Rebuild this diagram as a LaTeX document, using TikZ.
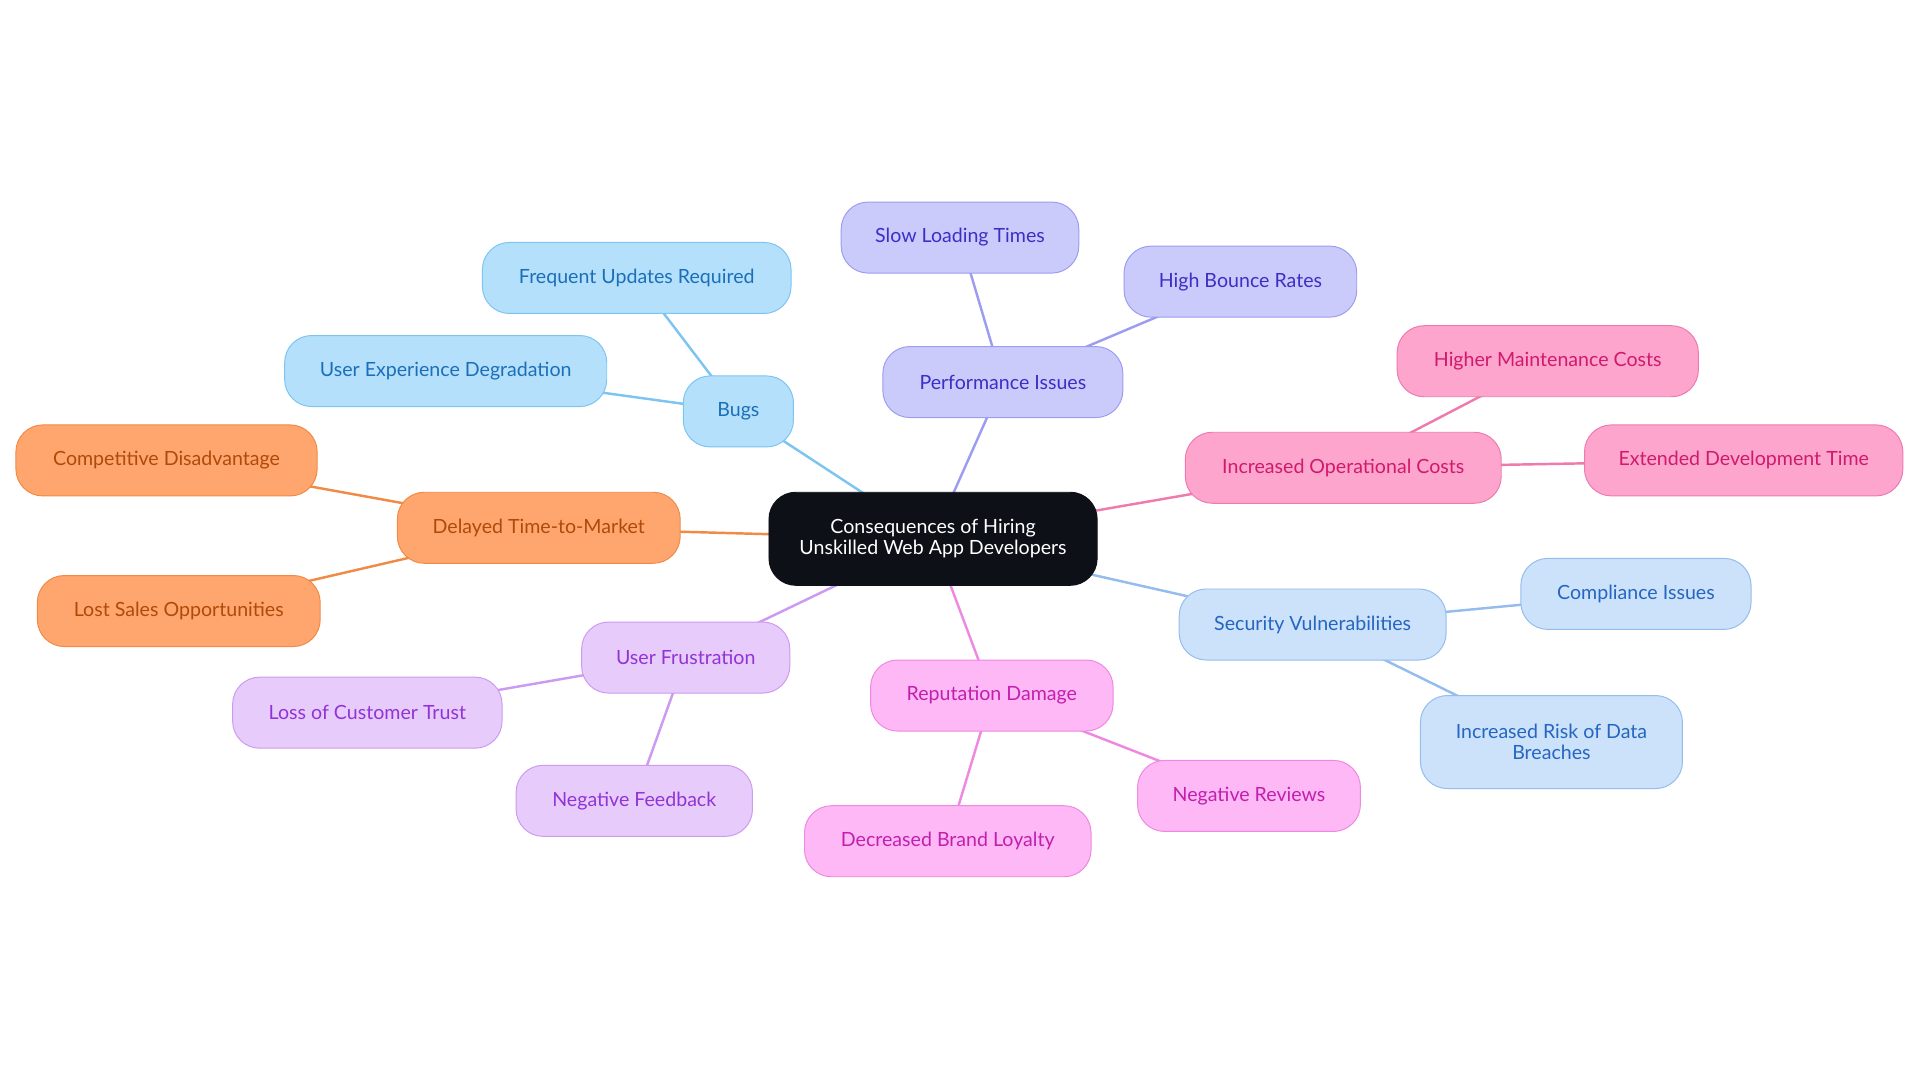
\documentclass[tikz,border=0pt]{standalone}
\usepackage{fontspec}
\setmainfont{Lato}
\usetikzlibrary{backgrounds}
\definecolor{cbF}{HTML}{B5E0FC}\definecolor{cbD}{HTML}{7CC4F2}\definecolor{cbT}{HTML}{1B6FB8}
\definecolor{cpF}{HTML}{CBCBFB}\definecolor{cpD}{HTML}{9C9CF0}\definecolor{cpT}{HTML}{3B30C4}
\definecolor{crF}{HTML}{FDA5CC}\definecolor{crD}{HTML}{EE7AAE}\definecolor{crT}{HTML}{CF1A6E}
\definecolor{csF}{HTML}{CCE1FA}\definecolor{csD}{HTML}{94BDEE}\definecolor{csT}{HTML}{2466C0}
\definecolor{cmF}{HTML}{FDB8F5}\definecolor{cmD}{HTML}{EE88E0}\definecolor{cmT}{HTML}{C21FAE}
\definecolor{cuF}{HTML}{E7CCFB}\definecolor{cuD}{HTML}{CC9AF0}\definecolor{cuT}{HTML}{9133D6}
\definecolor{coF}{HTML}{FEA66E}\definecolor{coD}{HTML}{F08A45}\definecolor{coT}{HTML}{B04A0A}
\definecolor{ccF}{HTML}{0D1117}
\tikzset{
 box/.style={rounded corners=22pt,minimum height=58pt,font=\fontsize{16}{17}\selectfont,align=center,line width=0.8pt,inner sep=0pt},
 gb/.style={box,fill=cbF,draw=cbD,text=cbT},
 gp/.style={box,fill=cpF,draw=cpD,text=cpT},
 gr/.style={box,fill=crF,draw=crD,text=crT},
 gs/.style={box,fill=csF,draw=csD,text=csT},
 gm/.style={box,fill=cmF,draw=cmD,text=cmT},
 gu/.style={box,fill=cuF,draw=cuD,text=cuT},
 go/.style={box,fill=coF,draw=coD,text=coT},
 ln/.style={line width=2pt}
}
\begin{document}
\begin{tikzpicture}[x=1pt,y=-1pt]
\useasboundingbox (0,0) rectangle (1568,884);
\node[box,fill=ccF,draw=ccF,text=white,minimum width=268pt,minimum height=76pt] (c) at (762,440) {Consequences of Hiring\\Unskilled Web App Developers};
\node[gb,minimum width=90pt] (bugs) at (603,336) {Bugs};
\node[gb,minimum width=252pt] (b1) at (520,227) {Frequent Updates Required};
\node[gb,minimum width=263pt] (b2) at (364,303) {User Experience Degradation};
\node[gp,minimum width=196pt] (perf) at (819,312) {Performance Issues};
\node[gp,minimum width=194pt] (p1) at (784,194) {Slow Loading Times};
\node[gp,minimum width=190pt] (p2) at (1013,230) {High Bounce Rates};
\node[gr,minimum width=258pt] (ops) at (1097,382) {Increased Operational Costs};
\node[gr,minimum width=246pt] (r1) at (1264,295) {Higher Maintenance Costs};
\node[gr,minimum width=260pt] (r2) at (1424,376) {Extended Development Time};
\node[gs,minimum width=218pt] (sec) at (1072,510) {Security Vulnerabilities};
\node[gs,minimum width=188pt] (s1) at (1336,485) {Compliance Issues};
\node[gs,minimum width=214pt,minimum height=76pt] (s2) at (1267,606) {Increased Risk of Data\\Breaches};
\node[gm,minimum width=198pt] (rep) at (810,568) {Reputation Damage};
\node[gm,minimum width=182pt] (m1) at (1020,650) {Negative Reviews};
\node[gm,minimum width=234pt] (m2) at (774,687) {Decreased Brand Loyalty};
\node[gu,minimum width=170pt] (uf) at (560,537) {User Frustration};
\node[gu,minimum width=220pt] (u1) at (300,582) {Loss of Customer Trust};
\node[gu,minimum width=193pt] (u2) at (518,654) {Negative Feedback};
\node[go,minimum width=231pt] (del) at (440,431) {Delayed Time-to-Market};
\node[go,minimum width=246pt] (o1) at (136,376) {Competitive Disadvantage};
\node[go,minimum width=231pt] (o2) at (146,499) {Lost Sales Opportunities};
\begin{scope}[on background layer]
\draw[ln,cbD] (c.center)--(bugs.center) (bugs.center)--(b1.center) (bugs.center)--(b2.center);
\draw[ln,cpD] (c.center)--(perf.center) (perf.center)--(p1.center) (perf.center)--(p2.center);
\draw[ln,crD] (c.center)--(ops.center) (ops.center)--(r1.center) (ops.center)--(r2.center);
\draw[ln,csD] (c.center)--(sec.center) (sec.center)--(s1.center) (sec.center)--(s2.center);
\draw[ln,cmD] (c.center)--(rep.center) (rep.center)--(m1.center) (rep.center)--(m2.center);
\draw[ln,cuD] (c.center)--(uf.center) (uf.center)--(u1.center) (uf.center)--(u2.center);
\draw[ln,coD] (c.center)--(del.center) (del.center)--(o1.center) (del.center)--(o2.center);
\end{scope}
\end{tikzpicture}
\end{document}
